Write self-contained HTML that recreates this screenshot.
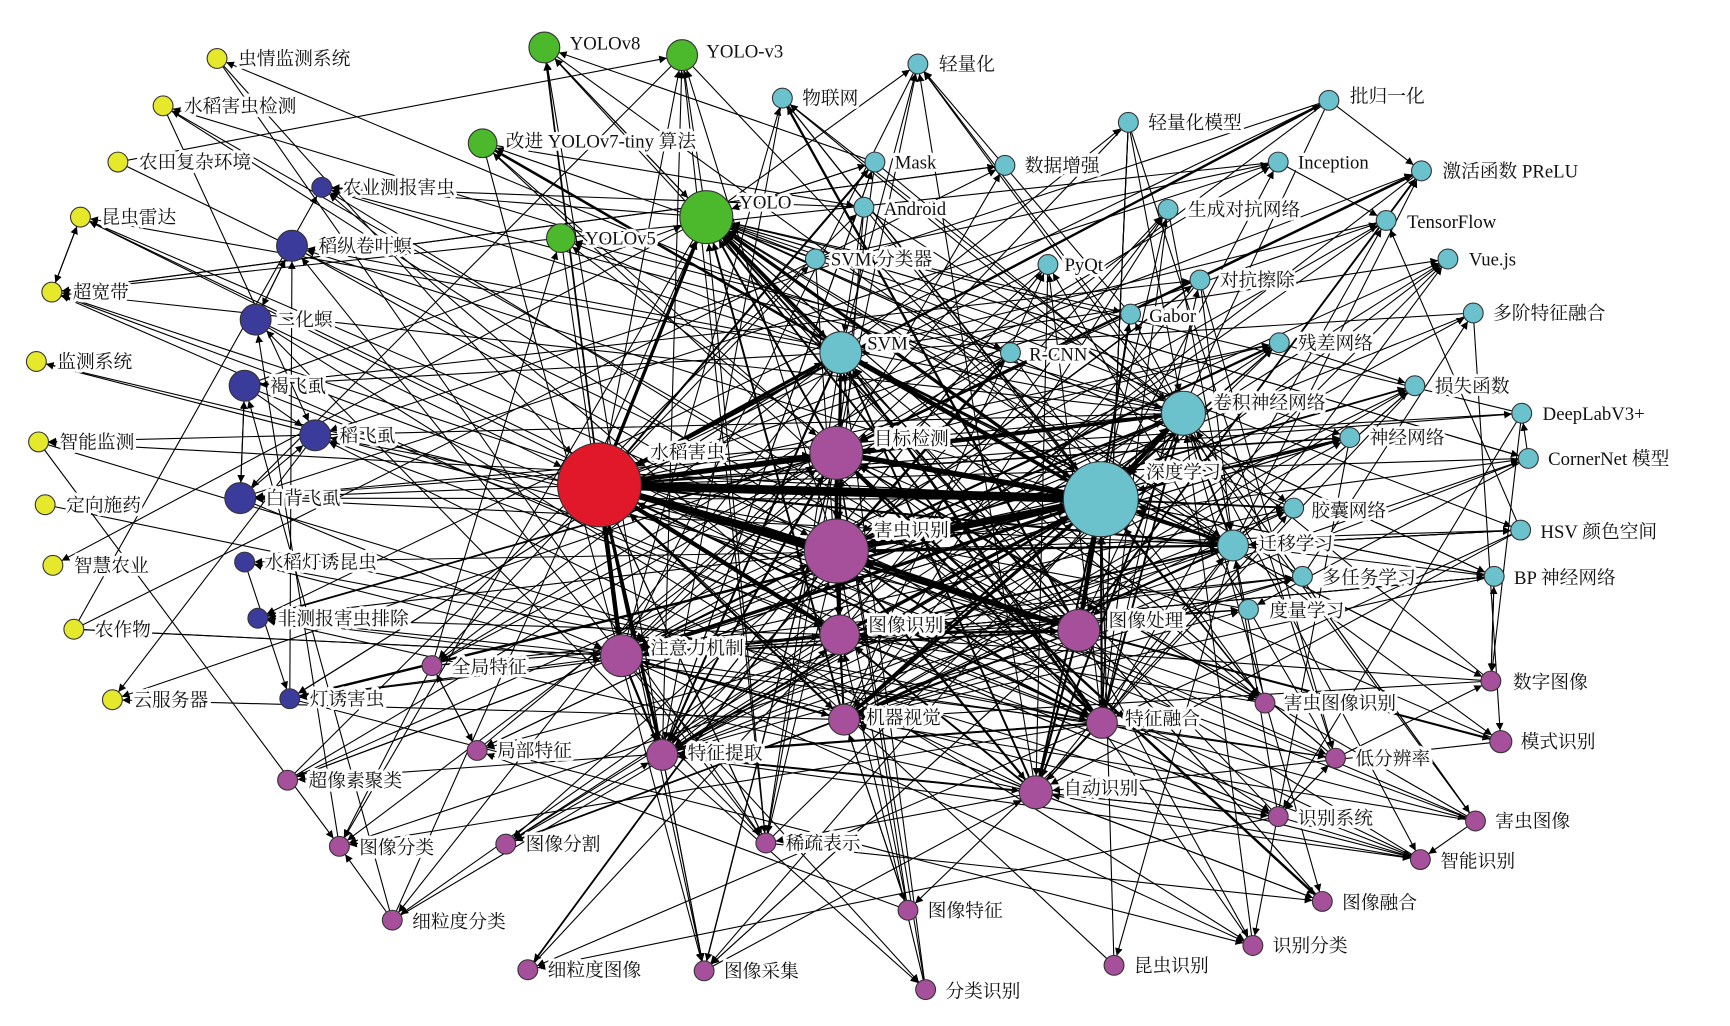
<!DOCTYPE html>
<html><head><meta charset="utf-8"><style>
html,body{margin:0;padding:0;background:#fff;}
svg{display:block}
text{font-family:"Liberation Serif","Noto Serif CJK SC","Noto Sans CJK SC",serif;font-size:17px;fill:#111;paint-order:stroke;stroke:#fff;stroke-width:6px;stroke-linejoin:round}
circle{stroke:#333;stroke-width:1}
.y{fill:#e6e82c}.b{fill:#3b3b9c}.g{fill:#4cb82c}.r{fill:#e0182a}.c{fill:#6bc1cc}.p{fill:#a6509c}
</style></head><body>
<svg id="s" width="1730" height="1026" viewBox="0 0 1570 931" xmlns="http://www.w3.org/2000/svg">
<defs><marker id="a" viewBox="0 0 10 10" refX="10" refY="5" markerWidth="7" markerHeight="7" markerUnits="userSpaceOnUse" orient="auto"><path d="M0,0L10,5L0,10z" fill="#000"/></marker></defs>
<g id="E"></g>
<g id="N">
<circle class="y" cx="197" cy="53" r="9"/><circle class="y" cx="148" cy="96" r="9"/><circle class="y" cx="107" cy="147" r="9"/><circle class="y" cx="73" cy="197" r="9"/><circle class="y" cx="47" cy="265" r="9"/><circle class="y" cx="33" cy="328" r="9"/><circle class="y" cx="35" cy="401" r="9"/><circle class="y" cx="41" cy="458" r="9"/><circle class="y" cx="48" cy="513" r="9"/><circle class="y" cx="67" cy="571" r="9"/><circle class="y" cx="102" cy="635" r="9"/>
<circle class="b" cx="292" cy="170" r="9"/><circle class="b" cx="265" cy="223" r="14"/><circle class="b" cx="232" cy="290" r="14"/><circle class="b" cx="222" cy="350" r="14"/><circle class="b" cx="286" cy="395" r="14"/><circle class="b" cx="218" cy="452" r="14"/><circle class="b" cx="222" cy="510" r="9"/><circle class="b" cx="234" cy="561" r="9"/><circle class="b" cx="263" cy="634" r="9"/>
<circle class="g" cx="494" cy="43" r="14"/><circle class="g" cx="619" cy="50" r="14"/><circle class="g" cx="438" cy="130" r="13"/><circle class="g" cx="641" cy="197" r="24"/><circle class="g" cx="509" cy="216" r="13"/>
<circle class="r" cx="544" cy="440" r="38"/>
<circle class="c" cx="833" cy="58" r="9"/><circle class="c" cx="710" cy="89" r="9"/><circle class="c" cx="1024" cy="111" r="9"/><circle class="c" cx="1206" cy="91" r="9"/><circle class="c" cx="1290" cy="155" r="9"/><circle class="c" cx="794" cy="147" r="9"/><circle class="c" cx="912" cy="150" r="9"/><circle class="c" cx="1160" cy="147" r="9"/><circle class="c" cx="784" cy="188" r="9"/><circle class="c" cx="1060" cy="190" r="9"/><circle class="c" cx="1258" cy="200" r="9"/><circle class="c" cx="740" cy="235" r="9"/><circle class="c" cx="951" cy="240" r="9"/><circle class="c" cx="1314" cy="235" r="9"/><circle class="c" cx="1089" cy="254" r="9"/><circle class="c" cx="1337" cy="284" r="9"/><circle class="c" cx="1026" cy="285" r="9"/><circle class="c" cx="763" cy="320" r="19"/><circle class="c" cx="917" cy="320" r="9"/><circle class="c" cx="1161" cy="311" r="9"/><circle class="c" cx="1284" cy="350" r="9"/><circle class="c" cx="1074" cy="375" r="20"/><circle class="c" cx="1381" cy="375" r="9"/><circle class="c" cx="1225" cy="397" r="9"/><circle class="c" cx="1387" cy="416" r="9"/><circle class="c" cx="999" cy="453" r="34"/><circle class="c" cx="1174" cy="461" r="9"/><circle class="c" cx="1380" cy="481" r="9"/><circle class="c" cx="1119" cy="495" r="14"/><circle class="c" cx="1182" cy="523" r="9"/><circle class="c" cx="1356" cy="523" r="9"/><circle class="c" cx="1133" cy="553" r="9"/>
<circle class="p" cx="759" cy="411" r="24"/><circle class="p" cx="759" cy="500" r="29"/><circle class="p" cx="762" cy="576" r="18"/><circle class="p" cx="979" cy="572" r="19"/><circle class="p" cx="564" cy="595" r="19"/><circle class="p" cx="392" cy="604" r="9"/><circle class="p" cx="433" cy="681" r="9"/><circle class="p" cx="601" cy="685" r="14"/><circle class="p" cx="766" cy="653" r="14"/><circle class="p" cx="1000" cy="656" r="14"/><circle class="p" cx="940" cy="719" r="15"/><circle class="p" cx="1148" cy="638" r="9"/><circle class="p" cx="1353" cy="618" r="9"/><circle class="p" cx="1362" cy="673" r="10"/><circle class="p" cx="1212" cy="688" r="9"/><circle class="p" cx="1160" cy="741" r="9"/><circle class="p" cx="1339" cy="745" r="9"/><circle class="p" cx="1289" cy="780" r="9"/><circle class="p" cx="261" cy="708" r="9"/><circle class="p" cx="308" cy="768" r="9"/><circle class="p" cx="459" cy="766" r="9"/><circle class="p" cx="695" cy="765" r="9"/><circle class="p" cx="356" cy="835" r="9"/><circle class="p" cx="824" cy="826" r="9"/><circle class="p" cx="1200" cy="818" r="9"/><circle class="p" cx="1137" cy="858" r="9"/><circle class="p" cx="1011" cy="876" r="9"/><circle class="p" cx="479" cy="880" r="9"/><circle class="p" cx="639" cy="881" r="9"/><circle class="p" cx="840" cy="898" r="9"/>
</g>
<g id="T">
<text x="216" y="59">虫情监测系统</text><text x="167" y="102">水稻害虫检测</text><text x="126" y="153">农田复杂环境</text><text x="92" y="203">昆虫雷达</text><text x="66" y="271">超宽带</text><text x="52" y="334">监测系统</text><text x="54" y="407">智能监测</text><text x="60" y="464">定向施药</text><text x="67" y="519">智慧农业</text><text x="86" y="577">农作物</text><text x="121" y="641">云服务器</text>
<text x="311" y="176">农业测报害虫</text><text x="289" y="229">稻纵卷叶螟</text><text x="251" y="296">二化螟</text><text x="245" y="356">褐飞虱</text><text x="308" y="401">稻飞虱</text><text x="241" y="458">白背飞虱</text><text x="240" y="516">水稻灯诱昆虫</text><text x="252" y="567">非测报害虫排除</text><text x="281" y="640">灯诱害虫</text>
<text x="517" y="45">YOLOv8</text><text x="641" y="52">YOLO-v3</text><text x="459" y="134">改进 YOLOv7-tiny 算法</text><text x="671" y="189">YOLO</text><text x="531" y="222">YOLOv5</text>
<text x="590" y="416">水稻害虫</text>
<text x="852" y="64">轻量化</text><text x="728" y="95">物联网</text><text x="1042" y="117">轻量化模型</text><text x="1225" y="93">批归一化</text><text x="1309" y="161">激活函数 PReLU</text><text x="812" y="153">Mask</text><text x="930" y="156">数据增强</text><text x="1178" y="153">Inception</text><text x="802" y="195">Android</text><text x="1078" y="196">生成对抗网络</text><text x="1277" y="207">TensorFlow</text><text x="754" y="241">SVM 分类器</text><text x="966" y="246">PyQt</text><text x="1333" y="241">Vue.js</text><text x="1107" y="260">对抗擦除</text><text x="1355" y="290">多阶特征融合</text><text x="1043" y="292">Gabor</text><text x="787" y="317">SVM</text><text x="934" y="327">R-CNN</text><text x="1178" y="317">残差网络</text><text x="1302" y="356">损失函数</text><text x="1101" y="371">卷积神经网络</text><text x="1400" y="381">DeepLabV3+</text><text x="1243" y="403">神经网络</text><text x="1405" y="422">CornerNet 模型</text><text x="1040" y="434">深度学习</text><text x="1190" y="469">胶囊网络</text><text x="1398" y="488">HSV 颜色空间</text><text x="1142" y="499">迁移学习</text><text x="1200" y="530">多任务学习</text><text x="1374" y="530">BP 神经网络</text><text x="1152" y="560">度量学习</text>
<text x="793" y="404">目标检测</text><text x="793" y="487">害虫识别</text><text x="788" y="573">图像识别</text><text x="1006" y="569">图像处理</text><text x="590" y="594">注意力机制</text><text x="410" y="611">全局特征</text><text x="451" y="687">局部特征</text><text x="624" y="689">特征提取</text><text x="786" y="657">机器视觉</text><text x="1021" y="658">特征融合</text><text x="965" y="721">自动识别</text><text x="1165" y="644">害虫图像识别</text><text x="1373" y="625">数字图像</text><text x="1380" y="679">模式识别</text><text x="1230" y="694">低分辨率</text><text x="1178" y="748">识别系统</text><text x="1357" y="751">害虫图像</text><text x="1307" y="787">智能识别</text><text x="280" y="714">超像素聚类</text><text x="326" y="775">图像分类</text><text x="477" y="772">图像分割</text><text x="713" y="771">稀疏表示</text><text x="374" y="842">细粒度分类</text><text x="842" y="832">图像特征</text><text x="1218" y="825">图像融合</text><text x="1155" y="864">识别分类</text><text x="1029" y="882">昆虫识别</text><text x="497" y="886">细粒度图像</text><text x="657" y="887">图像采集</text><text x="858" y="905">分类识别</text>
</g>
</svg>
<script>
(function(){
var cs=[].slice.call(document.querySelectorAll('#N circle'));
var P=cs.map(function(c){return [+c.getAttribute('cx'),+c.getAttribute('cy'),+c.getAttribute('r')];});
var E=document.getElementById('E'),ns='http://www.w3.org/2000/svg';
function L(a,b,w){var p=P[a],q=P[b];var dx=q[0]-p[0],dy=q[1]-p[1],d=Math.sqrt(dx*dx+dy*dy)||1;
var l=document.createElementNS(ns,'line');l.setAttribute('x1',p[0]+dx/d*p[2]);l.setAttribute('y1',p[1]+dy/d*p[2]);
l.setAttribute('x2',q[0]-dx/d*q[2]);l.setAttribute('y2',q[1]-dy/d*q[2]);l.setAttribute('stroke','#000');l.setAttribute('stroke-width',w);
l.setAttribute('marker-end','url(#a)');E.appendChild(l);}
var s=7;function R(){s=(s*16807)%2147483647;return (s-1)/2147483646;}
var H=[25,51,59,58,61,60,62,43,47,23,54,65,66,67,68];
var T=[[25,51,8],[25,59,6],[59,51,6],[58,51,5],[25,58,4],[25,60,4],[25,62,4],[59,61,4],[51,61,4],[25,61,3],[60,51,3],[43,51,3],[47,51,4],[25,23,3],[23,51,3],[62,51,3],[59,60,3],[58,59,3],[25,65,3],[43,25,3],[66,51,3],[65,51,2],[25,47,3],[54,51,3],[67,51,2],[59,68,2],[23,43,3],[25,66,2],[62,65,2],[61,68,2],[59,47,2],[58,47,2],[60,61,2],[25,54,2],[59,54,2]];
T.forEach(function(t){L(t[0],t[1],t[2]);});
var X=[[3,4],[4,3],[12,13],[13,12],[14,16],[16,14],[14,15],[16,15],[29,30],[70,56],[56,70],[72,73],[73,72],[63,64],[64,63],[45,46],[33,36]];
X.forEach(function(t){L(t[0],t[1],1);});
for(var i=0;i<P.length;i++){var k=(i<11)?1+Math.floor(R()*2):3+Math.floor(R()*4);
for(var j=0;j<k;j++){var t=R()<0.7?H[Math.floor(R()*H.length)]:Math.floor(R()*P.length);if(t==i||(i<11&&t<11))continue;
var w=(H.indexOf(i)>=0&&H.indexOf(t)>=0)?1.8:1;if(R()<0.5)L(i,t,w);else L(t,i,w);}}
for(var h=0;h<H.length;h++){for(var m=0;m<6;m++){var t2=11+Math.floor(R()*(P.length-11));if(t2!=H[h])L(H[h],t2,1+(h<5?R()*1.5:0));}}
})();
</script>
</body></html>
